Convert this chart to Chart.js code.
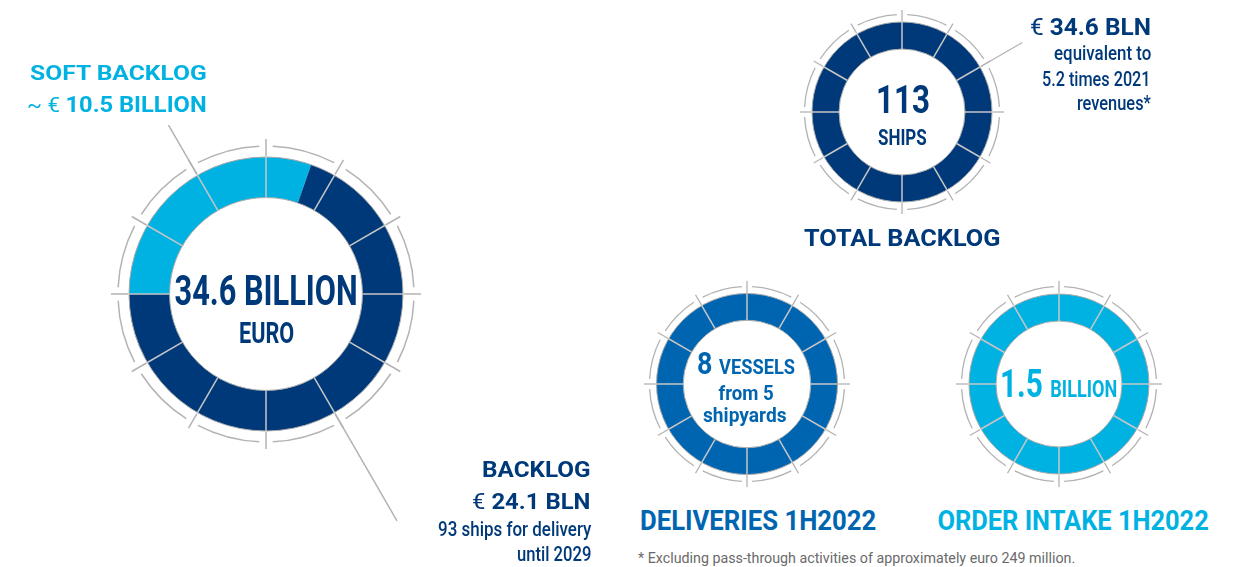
<!DOCTYPE html>
<html>
<head>
<meta charset="utf-8">
<script src="https://cdn.jsdelivr.net/npm/chart.js@4.4.1/dist/chart.umd.min.js"></script>
<style>
  html, body { margin: 0; padding: 0; background: #fff; }
  #page { position: relative; width: 1240px; height: 567px; overflow: hidden; font-family: Roboto, "Noto Sans", sans-serif; }
  #page canvas { position: absolute; }
  .lbl { position: absolute; left: 0; top: 0; white-space: nowrap; line-height: 1; }
</style>
</head>
<body>
<div id="page"></div>
<script>
// data (€ billion / counts)
const backlogLabels = ['Soft backlog', 'Backlog'];
const backlogValues = [10.5, 24.1];
const shipsLabels = ['Ships in backlog'];
const shipsValues = [113];
const deliveryLabels = ['Vessels delivered 1H2022'];
const deliveryValues = [8];
const intakeLabels = ['Order intake 1H2022'];
const intakeValues = [1.5];

const NAVY = '#00397a', LIGHT = '#00b2e2', MID = '#0065b0';
const page = document.getElementById('page');

// divider lines, outer tick ring and leader lines around each doughnut
const ringDecor = {
    id: 'ringDecor',
    afterDatasetsDraw(chart, args, opts) {
        const arc = chart.getDatasetMeta(0).data[0];
        const { x, y, innerRadius, outerRadius } = arc.getProps(['x', 'y', 'innerRadius', 'outerRadius'], true);
        const ctx = chart.ctx;
        const rad = d => (d - 90) * Math.PI / 180;
        ctx.save();
        ctx.lineCap = 'butt';

        // edges of the ring
        ctx.strokeStyle = '#a9a9a9';
        ctx.lineWidth = 1;
        for (const r of [innerRadius, outerRadius]) {
            ctx.beginPath();
            ctx.arc(x, y, r, 0, Math.PI * 2);
            ctx.stroke();
        }

        // 12 dividers
        ctx.strokeStyle = '#c6c6c6';
        ctx.lineWidth = 1.5;
        for (let k = 0; k < 12; k++) {
            const a = rad(k * 30);
            ctx.beginPath();
            ctx.moveTo(x + Math.cos(a) * innerRadius, y + Math.sin(a) * innerRadius);
            ctx.lineTo(x + Math.cos(a) * outerRadius, y + Math.sin(a) * outerRadius);
            ctx.stroke();
        }

        // outer dial
        ctx.strokeStyle = '#b3b3b3';
        ctx.lineWidth = opts.lineW;
        for (let k = 0; k < 12; k++) {
            ctx.beginPath();
            ctx.arc(x, y, opts.ringR, rad(k * 30 + opts.gap), rad((k + 1) * 30 - opts.gap));
            ctx.stroke();
            const a = rad(k * 30);
            ctx.beginPath();
            ctx.moveTo(x + Math.cos(a) * opts.tickIn, y + Math.sin(a) * opts.tickIn);
            ctx.lineTo(x + Math.cos(a) * opts.tickOut, y + Math.sin(a) * opts.tickOut);
            ctx.stroke();
        }

        for (const [deg, len] of opts.leaders) {
            const a = rad(deg);
            ctx.beginPath();
            ctx.moveTo(x + Math.cos(a) * opts.tickIn, y + Math.sin(a) * opts.tickIn);
            ctx.lineTo(x + Math.cos(a) * len, y + Math.sin(a) * len);
            ctx.stroke();
        }
        ctx.restore();
    }
};

function ring(cx, cy, half, labels, values, colors, radius, cutout, rotation, decor) {
    const c = document.createElement('canvas');
    c.width = half * 2;
    c.height = half * 2;
    c.style.left = (cx - half) + 'px';
    c.style.top = (cy - half) + 'px';
    page.appendChild(c);
    return new Chart(c, {
        type: 'doughnut',
        data: {
            labels: labels,
            datasets: [{ data: values, backgroundColor: colors, borderWidth: 0 }]
        },
        options: {
            responsive: false,
            animation: false,
            radius: radius,
            cutout: cutout,
            rotation: rotation,
            plugins: { legend: { display: false }, tooltip: { enabled: false }, ringDecor: decor }
        },
        plugins: [ringDecor]
    });
}

ring(266, 294, 270, backlogLabels, backlogValues, [LIGHT, NAVY], 137, '70.4%', -90,
    { ringR: 148, tickIn: 138, tickOut: 155, gap: 2.6, lineW: 1.5, leaders: [[330, 195], [150, 262]] });
ring(902, 112, 145, shipsLabels, shipsValues, [NAVY], 90, '70%', 0,
    { ringR: 97.5, tickIn: 91, tickOut: 102, gap: 3, lineW: 1.3, leaders: [[60, 139]] });
ring(747, 384, 110, deliveryLabels, deliveryValues, [MID], 90.5, '70.5%', 0,
    { ringR: 97.5, tickIn: 91, tickOut: 103, gap: 3, lineW: 1.3, leaders: [] });
ring(1059, 384, 110, intakeLabels, intakeValues, [LIGHT], 90, '70%', 0,
    { ringR: 97.5, tickIn: 91, tickOut: 103, gap: 3, lineW: 1.3, leaders: [] });

// text, fitted to the width measured on the original
function label(parts, x, base, width, align, color) {
    const div = document.createElement('div');
    div.className = 'lbl';
    div.style.color = color;
    for (const [text, size, weight] of parts) {
        const s = document.createElement('span');
        s.textContent = text;
        s.style.fontSize = size + 'px';
        s.style.fontWeight = weight;
        div.appendChild(s);
    }
    const probe = document.createElement('span');
    probe.style.cssText = 'display:inline-block;width:0;height:0;vertical-align:baseline';
    div.appendChild(probe);
    page.appendChild(div);
    const w = div.offsetWidth;
    const b = probe.offsetTop;
    div.style.top = (base - b) + 'px';
    div.style.left = (align === 'left' ? x : align === 'right' ? x - w : x - w / 2) + 'px';
    div.style.transformOrigin = align === 'left' ? 'left center' : align === 'right' ? 'right center' : 'center center';
    div.style.transform = 'scaleX(' + (width / w) + ')';
}

label([['SOFT BACKLOG', 21, 700]], 207, 80, 177, 'right', LIGHT);
label([['~ € ', 21, 400], ['10.5 BILLION', 22.5, 700]], 207, 112, 180, 'right', LIGHT);
label([['34.6 BILLION', 43, 700]], 266, 305, 183, 'center', NAVY);
label([['EURO', 29.5, 700]], 266, 343, 55, 'center', NAVY);

label([['BACKLOG', 22.5, 700]], 591, 477, 109, 'right', NAVY);
label([['€ ', 22.5, 400], ['24.1 BLN', 22.5, 700]], 591, 509, 119, 'right', NAVY);
label([['93 ships for delivery', 19.5, 500]], 591, 536, 153, 'right', NAVY);
label([['until 2029', 19.5, 500]], 591, 561, 74, 'right', NAVY);

label([['€ ', 24, 400], ['34.6 BLN', 24, 700]], 1151, 35, 121, 'right', NAVY);
label([['equivalent to', 19.5, 500]], 1151, 60, 97, 'right', NAVY);
label([['5.2 times 2021', 19.5, 500]], 1151, 86, 109, 'right', NAVY);
label([['revenues*', 19.5, 500]], 1151, 110, 74, 'right', NAVY);

label([['113', 39.5, 700]], 903, 113, 54, 'center', NAVY);
label([['SHIPS', 22.5, 700]], 902, 145, 49, 'center', NAVY);
label([['TOTAL BACKLOG', 23, 700]], 902, 246, 197, 'center', NAVY);

label([['8 ', 31, 700], ['VESSELS', 21, 700]], 697, 374, 98, 'left', MID);
label([['from 5', 21, 700]], 746, 400, 55, 'center', MID);
label([['shipyards', 21, 700]], 745, 422, 84, 'center', MID);
label([['DELIVERIES 1H2022', 27, 700]], 758, 530, 236, 'center', MID);

label([['1.5 ', 39.5, 700], ['BILLION', 24, 700]], 1000, 397, 117, 'left', LIGHT);
label([['ORDER INTAKE 1H2022', 27, 700]], 1073, 530, 271, 'center', LIGHT);

label([['* Excluding pass-through activities of approximately euro 249 million.', 15.5, 400]], 638, 563, 437, 'left', '#6a6a6a');
</script>
</body>
</html>
